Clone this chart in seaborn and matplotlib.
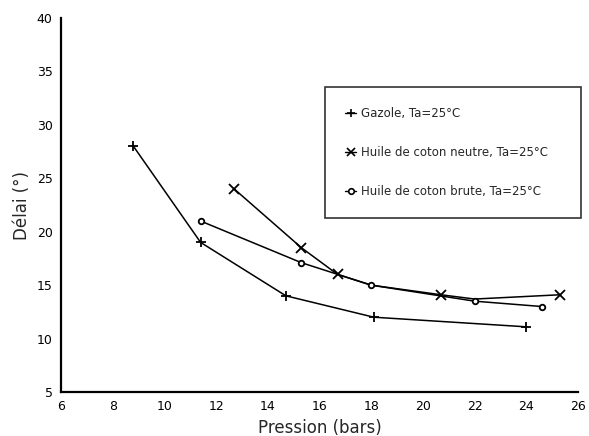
import matplotlib
matplotlib.use("Agg")
import matplotlib.pyplot as plt
import seaborn as sns
import pandas as pd
from matplotlib.lines import Line2D

# Data
gazole_x = [8.8, 11.4, 14.7, 18.1, 24.0]
gazole_y = [28.0, 19.0, 14.0, 12.0, 11.1]
neutre_x = [12.7, 15.3, 16.7, 18.0, 20.7, 22.0, 25.3]
neutre_y = [24.0, 18.5, 16.0, 15.0, 14.1, 13.7, 14.1]
neutre_marked = [True, True, True, False, True, False, True]
brute_x = [11.4, 15.3, 18.0, 22.0, 24.6]
brute_y = [21.0, 17.1, 15.0, 13.5, 13.0]

labels = ["Gazole, Ta=25°C",
          "Huile de coton neutre, Ta=25°C",
          "Huile de coton brute, Ta=25°C"]
markers = ["+", "x", "o"]

x_ticks = [6, 8, 10, 12, 14, 16, 18, 20, 22, 24, 26]
y_ticks = [5, 10, 15, 20, 25, 30, 35, 40]

sns.set_theme(style="white")
plt.rcParams['font.family'] = ['DejaVu Sans']

fig = plt.figure(figsize=(5.89, 4.36), dpi=100)
ax = fig.add_axes([0.1036, 0.1009, 0.8778, 0.8578])

series = [(gazole_x, gazole_y, None), (neutre_x, neutre_y, neutre_marked),
          (brute_x, brute_y, None)]
for (xs, ys, mark), lab, mk in zip(series, labels, markers):
    df = pd.DataFrame({"x": xs, "y": ys})
    ms = 6.5 if mk != "o" else 4
    every = None if mark is None else [i for i, m in enumerate(mark) if m]
    sns.lineplot(data=df, x="x", y="y", ax=ax, color="black", linewidth=1.1,
                 marker=mk, markersize=ms, markeredgewidth=1.3,
                 markevery=every,
                 markerfacecolor="white" if mk == "o" else "black",
                 markeredgecolor="black", legend=False, sort=False)

ax.set_xlim(6, 26)
ax.set_ylim(5, 40)
ax.set_xticks(x_ticks)
ax.set_yticks(y_ticks)
ax.tick_params(direction="inout", length=8, width=1.3, colors="black",
               labelsize=9, pad=2)
for s in ["top", "right"]:
    ax.spines[s].set_visible(False)
for s in ["left", "bottom"]:
    ax.spines[s].set_color("black")
    ax.spines[s].set_linewidth(1.6)

ax.set_xlabel("Pression (bars)", fontsize=12, labelpad=4)
ax.set_ylabel("Délai (°)", fontsize=12, labelpad=4)

handles = [Line2D([0], [0], color="black", marker=mk, linestyle="-",
                  markersize=(5.5 if mk != "o" else 4),
                  markerfacecolor="white" if mk == "o" else "black",
                  markeredgewidth=1.2, linewidth=1.0)
           for mk in markers]
leg = ax.legend(handles, labels, loc="upper left", mode="expand",
                bbox_to_anchor=(0.511, 0.815, 0.494, 0.0), fontsize=8.5,
                frameon=True, fancybox=False, edgecolor="black",
                borderpad=1.7, labelspacing=2.2, handlelength=0.9,
                handletextpad=0.4, borderaxespad=0)
leg.get_frame().set_linewidth(1.2)

fig.savefig("out.png", dpi=100)
